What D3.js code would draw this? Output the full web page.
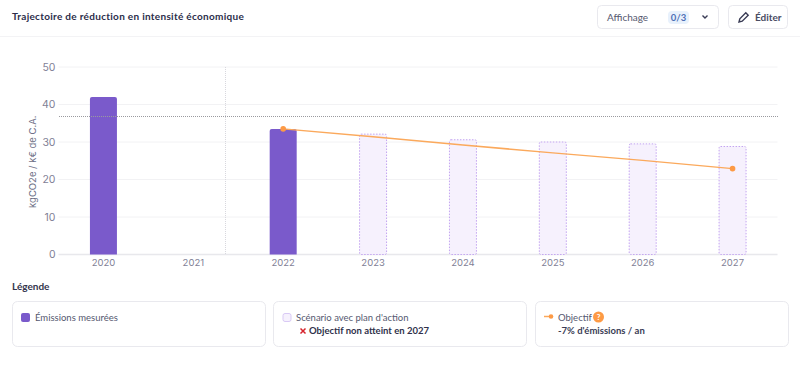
<!DOCTYPE html>
<html lang="fr">
<head>
<meta charset="utf-8">
<script src="https://cdn.jsdelivr.net/npm/d3@7"></script>
<style>
  html, body { margin: 0; padding: 0; background: #fff; overflow: hidden; }
  text { font-family: "Lato", sans-serif; }
</style>
</head>
<body>
<div id="chart"></div>
<script>
// values
var years = ["2020", "2021", "2022", "2023", "2024", "2025", "2026", "2027"];
var measuredYears = ["2020", "2022"];
var measuredValues = [42, 33.5];
var scenarioYears = ["2023", "2024", "2025", "2026", "2027"];
var scenarioValues = [32.1, 30.6, 30, 29.5, 28.8];
var objectiveYears = ["2022", "2023", "2024", "2025", "2026", "2027"];
var objectiveValues = [33.5, 31.4, 29.2, 27.1, 25.1, 22.9];
var objectiveMarkers = ["2022", "2027"];
var yTicks = [0, 10, 20, 30, 40, 50];
var thresholdValue = 36.9;
var baseYearOffset = 0.36; // vertical marker, in steps after 2021

var width = 800, height = 368;
var margin = {top: 67, right: 22.5, bottom: 113.5, left: 58.5};

var svg = d3.select("#chart").append("svg")
  .attr("width", width)
  .attr("height", height)
  .style("display", "block");

var x = d3.scaleBand().domain(years).range([margin.left, width - margin.right]);
var y = d3.scaleLinear().domain([0, 50]).range([height - margin.bottom, margin.top]);
var barWidth = 27;

function cx(d) { return x(d) + x.bandwidth() / 2; }

// header
svg.append("text").attr("x", 12).attr("y", 20)
  .attr("font-size", 10).attr("font-weight", 700).attr("letter-spacing", 0.3)
  .attr("fill", "#2b2d4a").text("Trajectoire de réduction en intensité économique");
svg.append("line").attr("x1", 0).attr("x2", width).attr("y1", 36.5).attr("y2", 36.5)
  .attr("stroke", "#f3f3f5");

function box(bx, by, w, h, r) {
  return svg.append("rect").attr("x", bx).attr("y", by).attr("width", w).attr("height", h)
    .attr("rx", r).attr("fill", "#fff").attr("stroke", "#e9e9ee");
}

box(597.5, 5.5, 121, 23, 4);
svg.append("text").attr("x", 607).attr("y", 21).attr("font-size", 10).attr("fill", "#55586f").text("Affichage");
svg.append("rect").attr("x", 668).attr("y", 11).attr("width", 21).attr("height", 13).attr("rx", 4).attr("fill", "#e8f1fc");
svg.append("text").attr("x", 678.5).attr("y", 21).attr("font-size", 9.5).attr("font-weight", 700)
  .attr("text-anchor", "middle").attr("fill", "#4d6fb5").text("0/3");
svg.append("path").attr("d", "M702.5 15.5l2.5 2.5 2.5-2.5").attr("fill", "none")
  .attr("stroke", "#3a3c55").attr("stroke-width", 1.4);

box(728.5, 5.5, 59, 23, 4);
svg.append("path").attr("d", "M739 22l0.8-3.2 6-6 2.4 2.4-6 6z").attr("fill", "none")
  .attr("stroke", "#3a3c55").attr("stroke-width", 1.4);
svg.append("text").attr("x", 755).attr("y", 21).attr("font-size", 10).attr("font-weight", 700)
  .attr("fill", "#4a4c63").text("Éditer");

// grid
svg.append("g").selectAll("line").data(yTicks).enter().append("line")
  .attr("x1", margin.left).attr("x2", width - margin.right)
  .attr("y1", function (d) { return y(d); })
  .attr("y2", function (d) { return y(d); })
  .attr("stroke", function (d) { return d === 0 ? "#e8e8ec" : "#f2f2f4"; })
  .attr("stroke-width", function (d) { return d === 0 ? 1.5 : 1; });

// scenario bars
svg.append("g").selectAll("rect").data(scenarioValues).enter().append("rect")
  .attr("x", function (d, i) { return cx(scenarioYears[i]) - barWidth / 2; })
  .attr("y", function (d) { return y(d); })
  .attr("width", barWidth)
  .attr("height", function (d) { return y(0) - y(d); })
  .attr("rx", 1.5)
  .attr("fill", "#f6f1fd")
  .attr("stroke", "#c3a4f0")
  .attr("stroke-dasharray", "1.5 1.5");

// measured bars
svg.append("g").selectAll("path").data(measuredValues).enter().append("path")
  .attr("d", function (d, i) {
    var l = cx(measuredYears[i]) - barWidth / 2, t = y(d), r = 2;
    return "M" + l + " " + y(0) + "V" + (t + r) + "Q" + l + " " + t + " " + (l + r) + " " + t
      + "H" + (l + barWidth - r) + "Q" + (l + barWidth) + " " + t + " " + (l + barWidth) + " " + (t + r)
      + "V" + y(0) + "Z";
  })
  .attr("fill", "#7a5acb");

// reference lines
var baseX = cx("2021") + baseYearOffset * x.step();
svg.append("line").attr("x1", baseX).attr("x2", baseX)
  .attr("y1", y(50)).attr("y2", y(0))
  .attr("stroke", "#d8d8de").attr("stroke-dasharray", "1 1")
  .attr("shape-rendering", "crispEdges");
svg.append("line").attr("x1", Math.round(margin.left)).attr("x2", width - margin.right)
  .attr("y1", y(thresholdValue)).attr("y2", y(thresholdValue))
  .attr("stroke", "#9a9a9f").attr("stroke-dasharray", "1 1")
  .attr("shape-rendering", "crispEdges");

// objective line
var objectiveLine = d3.line()
  .x(function (d, i) { return cx(objectiveYears[i]); })
  .y(function (d) { return y(d); });
svg.append("path").datum(objectiveValues)
  .attr("d", objectiveLine)
  .attr("fill", "none").attr("stroke", "#fba95c").attr("stroke-width", 1.5);
svg.append("g").selectAll("circle").data(objectiveMarkers).enter().append("circle")
  .attr("cx", function (d) { return cx(d); })
  .attr("cy", function (d) { return y(objectiveValues[objectiveYears.indexOf(d)]); })
  .attr("r", 2.8)
  .attr("fill", "#fd9a45");

// axes
var yAxis = d3.axisLeft(y).tickValues(yTicks).tickSize(0).tickPadding(3);
svg.append("g").attr("transform", "translate(" + margin.left + ",0)").call(yAxis)
  .call(function (g) { g.select(".domain").remove(); })
  .selectAll("text").attr("font-size", 10.5).attr("fill", "#7f8196").style("font-family", "Inter");

var xAxis = d3.axisBottom(x).tickSize(0).tickPadding(5);
svg.append("g").attr("transform", "translate(0," + y(0) + ")").call(xAxis)
  .call(function (g) { g.select(".domain").remove(); })
  .selectAll("text").attr("font-size", 9.5).attr("fill", "#7f8196").style("font-family", "Inter");

svg.append("text")
  .attr("transform", "translate(35.5," + ((y(0) + y(50)) / 2 + 1) + ") rotate(-90)")
  .attr("text-anchor", "middle").attr("font-size", 9.5).attr("fill", "#6d6f86")
  .style("font-family", "Inter").text("kgCO2e / k€ de C.A.");

// legend
svg.append("text").attr("x", 12).attr("y", 290).attr("font-size", 10).attr("font-weight", 700)
  .attr("fill", "#33354d").text("Légende");

box(12.5, 301.5, 253, 45, 5);
box(273.5, 301.5, 253, 45, 5);
box(535.5, 301.5, 253, 45, 5);

svg.append("rect").attr("x", 21).attr("y", 313).attr("width", 9).attr("height", 9).attr("rx", 2).attr("fill", "#7a5acb");
svg.append("text").attr("x", 35).attr("y", 321).attr("font-size", 9.5).attr("fill", "#55586f").text("Émissions mesurées");

svg.append("rect").attr("x", 283).attr("y", 313.5).attr("width", 8).attr("height", 8).attr("rx", 2)
  .attr("fill", "#f6f1fd").attr("stroke", "#d9c9f5");
svg.append("text").attr("x", 296).attr("y", 321).attr("font-size", 9.5).attr("fill", "#55586f").text("Scénario avec plan d'action");
svg.append("path").attr("d", "M300.5 328.5l5 5m0-5l-5 5").attr("stroke", "#d6232c").attr("stroke-width", 1.5);
svg.append("text").attr("x", 309).attr("y", 334).attr("font-size", 9.5).attr("font-weight", 700)
  .attr("fill", "#2f314b").text("Objectif non atteint en 2027");

svg.append("line").attr("x1", 544).attr("x2", 553).attr("y1", 316.5).attr("y2", 316.5)
  .attr("stroke", "#fba95c").attr("stroke-width", 1.5);
svg.append("circle").attr("cx", 551).attr("cy", 316.5).attr("r", 2.3).attr("fill", "#fd9a45");
svg.append("text").attr("x", 558).attr("y", 321).attr("font-size", 9.5).attr("fill", "#55586f").text("Objectif");
svg.append("circle").attr("cx", 598.5).attr("cy", 317).attr("r", 5.5).attr("fill", "#fd9a45");
svg.append("text").attr("x", 598.5).attr("y", 320).attr("font-size", 8).attr("font-weight", 700)
  .attr("text-anchor", "middle").attr("fill", "#fff").text("?");
svg.append("text").attr("x", 558).attr("y", 334).attr("font-size", 9.5).attr("font-weight", 700)
  .attr("fill", "#3a3c55").text("-7% d'émissions / an");
</script>
</body>
</html>
